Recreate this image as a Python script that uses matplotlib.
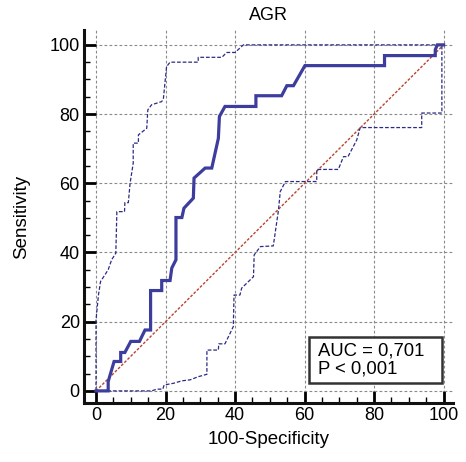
import matplotlib.pyplot as plt
from matplotlib.patches import Rectangle
from matplotlib.ticker import MultipleLocator

plt.rcParams['font.family'] = ['Liberation Sans', 'DejaVu Sans']

# ROC curve (100-Specificity, Sensitivity)
roc_x = [0, 3.5, 3.5, 5.2, 7.1, 7.1, 8.3, 10.0, 12.5, 14.1, 15.7, 15.7, 18.9, 18.9, 21.3, 21.8,
         23.0, 23.0, 24.7, 25.3, 28.0, 28.2, 31.4, 33.3, 35.2, 35.5, 37.1, 46.0, 46.0, 53.4,
         54.9, 56.8, 60.1, 83.0, 83.0, 97.6, 97.6, 98.2, 99.5, 100]
roc_y = [0, 0, 2.7, 8.5, 8.5, 11.1, 11.1, 14.3, 14.3, 17.6, 17.6, 29.0, 29.0, 31.9, 31.9, 35.5,
         37.9, 50.1, 50.1, 52.8, 55.7, 61.5, 64.4, 64.4, 73.0, 79.3, 82.2, 82.2, 85.3, 85.3,
         88.2, 88.2, 94.0, 94.0, 96.9, 96.9, 98.6, 100, 100, 100]

# upper confidence bound
upper_x = [0, 0, 0.7, 1.3, 3.5, 4.5, 5.7, 6.0, 8.2, 8.3, 9.3, 9.8, 10.7, 10.7, 12.2, 12.2, 13.1,
           14.6, 14.9, 16.0, 18.9, 19.4, 20.3, 21.3, 29.4, 29.4, 36.2, 37.6, 40.0, 42.4, 100]
upper_y = [0, 20.5, 27.7, 31.6, 35.0, 37.9, 39.8, 51.8, 51.8, 54.4, 54.4, 60.0, 65.8, 71.6, 71.6,
           74.0, 74.7, 75.9, 81.2, 82.7, 83.6, 84.6, 93.7, 95.0, 95.0, 96.4, 96.4, 97.8, 97.8,
           100, 100]

# lower confidence bound
lower_x = [0, 16.0, 17.5, 19.2, 19.6, 22.3, 24.7, 27.1, 29.4, 31.9, 31.9, 35.2, 35.3, 37.1, 38.6,
           39.5, 39.7, 41.4, 41.9, 45.3, 45.5, 47.3, 51.0, 52.5, 53.0, 54.5, 63.5, 63.5, 69.7,
           71.2, 72.5, 75.0, 76.0, 93.7, 93.7, 99.5, 99.5, 100]
lower_y = [0, 0, 0.5, 0.5, 1.7, 2.2, 2.9, 3.2, 4.1, 4.8, 11.8, 11.8, 13.6, 13.6, 16.7, 18.6, 27.7,
           27.7, 29.7, 33.0, 39.3, 41.7, 41.9, 52.3, 57.6, 60.5, 60.5, 64.0, 64.0, 67.7, 67.7,
           72.5, 76.1, 76.1, 80.3, 80.3, 100, 100]

ref_line = [0, 100]
auc_text = "AUC = 0,701\nP < 0,001"

fig = plt.figure(figsize=(4.66, 4.62), dpi=100)
ax = fig.add_axes([0.1803, 0.1277, 0.7918, 0.8074])

ax.plot(ref_line, ref_line, color='#b8452e', linewidth=1.0, linestyle=(0, (2, 1.2)), zorder=2)
ax.plot(upper_x, upper_y, color='#2b2b85', linewidth=0.9, linestyle=(0, (3, 1.5)), zorder=3)
ax.plot(lower_x, lower_y, color='#2b2b85', linewidth=0.9, linestyle=(0, (3, 1.5)), zorder=3)
ax.plot(roc_x, roc_y, color='#3d3d9e', linewidth=2.3, zorder=4, solid_joinstyle='miter')

ax.set_xlim(-3.45, 102.7)
ax.set_ylim(-3.5, 104.3)
ax.xaxis.set_major_locator(MultipleLocator(20))
ax.yaxis.set_major_locator(MultipleLocator(20))
ax.xaxis.set_minor_locator(MultipleLocator(5))
ax.yaxis.set_minor_locator(MultipleLocator(5))

ax.grid(True, which='major', color='#8a8a8a', linestyle=(0, (2.5, 2)), linewidth=0.8, zorder=0)

for s in ['top', 'right']:
    ax.spines[s].set_visible(False)
for s in ['left', 'bottom']:
    ax.spines[s].set_linewidth(2.2)
    ax.spines[s].set_color('#111111')

ax.tick_params(which='major', direction='in', length=8.5, width=2.0, labelsize=13, pad=3)
ax.tick_params(which='minor', direction='in', length=4.0, width=1.0)

ax.set_title("AGR", fontsize=13, pad=7)
ax.set_xlabel("100-Specificity", fontsize=13.5, labelpad=5)
ax.set_ylabel("Sensitivity", fontsize=13.5, labelpad=14)

ax.add_patch(Rectangle((61.3, 2.3), 38.3, 13.3, facecolor='white', edgecolor='#333333',
                       linewidth=1.8, zorder=5))
ax.text(63.9, 9.0, auc_text, fontsize=13.3, va='center', ha='left', linespacing=1.1, zorder=6)

plt.savefig('out.png', dpi=100)
